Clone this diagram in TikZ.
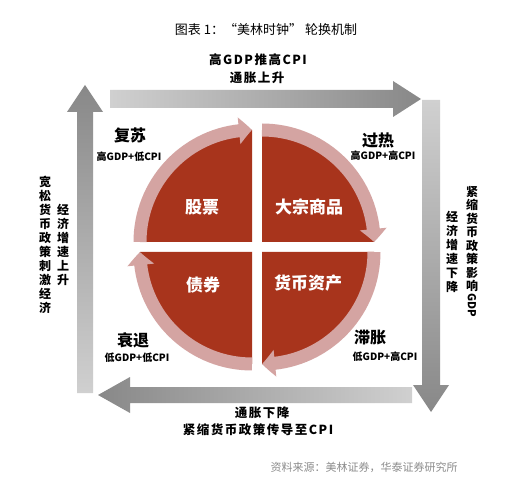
\documentclass[tikz,border=0pt]{standalone}
\usepackage{fontspec}
\usetikzlibrary{arrows.meta,bending}
\newfontfamily\cjk{Noto Sans CJK SC}
\newfontfamily\cjksp[LetterSpace=12]{Noto Sans CJK SC}
\definecolor{redq}{HTML}{A8341C}
\definecolor{ringc}{HTML}{D4A4A2}
\definecolor{arrlight}{HTML}{D0D0D0}
\definecolor{arrdark}{HTML}{888888}
\definecolor{srcgray}{HTML}{8C8C8C}
\tikzset{
  phase/.style={font=\cjk\bfseries\fontsize{16}{16}\selectfont, inner sep=0},
  cond/.style={font=\cjk\bfseries\fontsize{10}{10}\selectfont, inner sep=0},
  asset/.style={font=\cjk\bfseries\fontsize{17}{17}\selectfont, text=white, inner sep=0},
  flow/.style={font=\cjksp\bfseries\fontsize{12.5}{12.5}\selectfont, inner sep=0},
  vert/.style={font=\cjk\bfseries\fontsize{12}{14}\selectfont, inner sep=0, align=center},
  ringarr/.style={draw=ringc, line width=13pt, -{Triangle[width=26pt,length=13pt,bend]}},
  quadfill/.style={fill=redq},
}
\begin{document}
\begin{tikzpicture}[x=1pt,y=1pt]
\useasboundingbox (0,0) rectangle (528,480);
\fill[white] (0,0) rectangle (528,480);
% title
\node[font=\cjk\fontsize{13}{13}\selectfont, inner sep=0] (title) at (266,450) {图表 1：“美林时钟” 轮换机制};
% big gray arrows
\shade[left color=arrlight, right color=arrdark] (110,372) -- (393,372) -- (393,363) -- (421,381) -- (393,399) -- (393,390) -- (110,390) -- cycle;
\shade[top color=arrlight, bottom color=arrdark] (422,380) -- (440,380) -- (440,95) -- (449,95) -- (431,68) -- (413,95) -- (422,95) -- cycle;
\shade[right color=arrlight, left color=arrdark] (412,93) -- (130,93) -- (130,103) -- (98,85) -- (130,67) -- (130,77) -- (412,77) -- cycle;
\shade[bottom color=arrlight, top color=arrdark] (77,87) -- (93,87) -- (93,368) -- (103,368) -- (85,395) -- (67,368) -- (77,368) -- cycle;
% quadrants
\fill[quadfill] (252,238) -- ++(-112,0) arc[start angle=180,end angle=90,radius=112] -- cycle;
\fill[quadfill] (262,238) -- ++(0,112) arc[start angle=90,end angle=0,radius=112] -- cycle;
\fill[quadfill] (262,228) -- ++(112,0) arc[start angle=0,end angle=-90,radius=112] -- cycle;
\fill[quadfill] (252,228) -- ++(0,-112) arc[start angle=270,end angle=180,radius=112] -- cycle;
% ring arrows
\draw[ringarr] (140,238) arc[start angle=180,end angle=90,radius=112];
\draw[ringarr] (262,350) arc[start angle=90,end angle=0,radius=112];
\draw[ringarr] (374,228) arc[start angle=0,end angle=-90,radius=112];
\draw[ringarr] (252,116) arc[start angle=270,end angle=180,radius=112];
% assets
\node[asset] (stock) at (202,273) {股票};
\node[asset] (comm) at (309,273) {大宗商品};
\node[asset] (bond) at (203,195) {债券};
\node[asset] (cash) at (308,197) {货币资产};
% phases
\node[phase] (rec) at (130,345) {复苏};
\node[cond] (recc) at (129,323) {高GDP+低CPI};
\node[phase] (over) at (378,340) {过热};
\node[cond] (overc) at (383,324) {高GDP+高CPI};
\node[phase] (reces) at (133,140) {衰退};
\node[cond] (recesc) at (137,122) {低GDP+低CPI};
\node[phase] (stag) at (370,142) {滞胀};
\node[cond] (stagc) at (385,123) {低GDP+高CPI};
% flow labels
\node[flow] (top1) at (258,420) {高GDP推高CPI};
\node[flow] (top2) at (257,402) {通胀上升};
\node[flow] (bot1) at (262,67) {通胀下降};
\node[flow] (bot2) at (258,50) {紧缩货币政策传导至CPI};
% vertical labels
\node[vert] (left1) at (45,235) {宽\\松\\货\\币\\政\\策\\刺\\激\\经\\济};
\node[vert] (left2) at (63,235) {经\\济\\增\\速\\上\\升};
\node[vert, font=\cjk\bfseries\fontsize{12}{13.5}\selectfont] (right1) at (472,241) {紧\\缩\\货\\币\\政\\策\\影\\响};
\node[font=\cjk\bfseries\fontsize{11}{11}\selectfont, inner sep=0, rotate=-90] (rightgdp) at (472,175) {GDP};
\node[vert] (right2) at (452,228) {经\\济\\增\\速\\下\\降};
% source
\node[font=\cjk\fontsize{11}{11}\selectfont, text=srcgray, inner sep=0] (src) at (364,13) {资料来源：美林证券，华泰证券研究所};
\end{tikzpicture}
\end{document}
